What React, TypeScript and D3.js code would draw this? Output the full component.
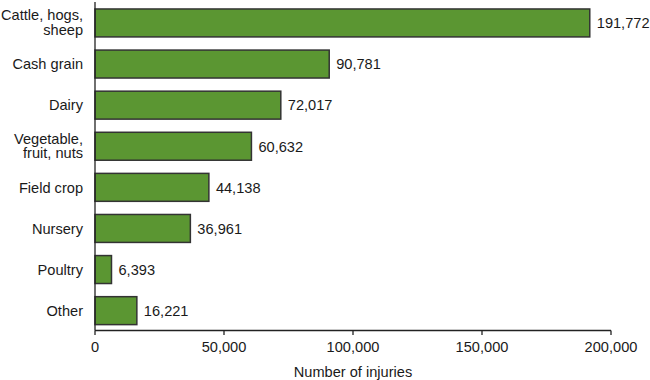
import React from "react";
import * as d3 from "d3";

const categories: string[][] = [
  ["Cattle, hogs,", "sheep"],
  ["Cash grain"],
  ["Dairy"],
  ["Vegetable,", "fruit, nuts"],
  ["Field crop"],
  ["Nursery"],
  ["Poultry"],
  ["Other"],
];
const values: number[] = [191772, 90781, 72017, 60632, 44138, 36961, 6393, 16221];
const xTicks: number[] = [0, 50000, 100000, 150000, 200000];
const xTitle = "Number of injuries";

const W = 650;
const H = 380;
const FONT = "'Liberation Sans', Arial, Helvetica, sans-serif";

export default function App() {
  const left = 95;
  const right = 611;
  const axisY = 330.5;
  const x = d3.scaleLinear().domain([0, 200000]).range([left, right]);
  const ids = categories.map((_, i) => String(i));
  const y = d3
    .scaleBand<string>()
    .domain(ids)
    .range([2.4, 331.2])
    .paddingInner(0.32)
    .paddingOuter(0.16);
  const fmt = d3.format(",");
  const fs = 14.6;
  return (
    <svg
      width={W}
      height={H}
      style={{ position: "absolute", left: 0, top: 0, background: "#fff" }}
      fontFamily={FONT}
    >
      {values.map((v, i) => {
        const yy = y(String(i))!;
        const bh = y.bandwidth();
        const cy = yy + bh / 2;
        const lines = categories[i];
        return (
          <g key={i}>
            <rect
              x={x(0)}
              y={yy}
              width={x(v) - x(0)}
              height={bh}
              fill="#5b9632"
              stroke="#333"
              strokeWidth={1.5}
            />
            <text
              x={x(v) + 7}
              y={cy}
              dy="0.36em"
              fontSize={fs}
              fill="#1a1a1a"
            >
              {fmt(v)}
            </text>
            {lines.map((ln, j) => {
              const off = lines.length === 1 ? 0 : j === 0 ? -8 : 6.5;
              return (
                <text
                  key={j}
                  x={83}
                  y={cy + off}
                  dy="0.36em"
                  textAnchor="end"
                  fontSize={fs}
                  fill="#1a1a1a"
                >
                  {ln}
                </text>
              );
            })}
          </g>
        );
      })}
      <line x1={left} x2={left} y1={2} y2={axisY} stroke="#222" strokeWidth={1.3} />
      <line x1={left} x2={right} y1={axisY} y2={axisY} stroke="#222" strokeWidth={1.3} />
      {xTicks.map((t) => (
        <g key={t}>
          <line x1={x(t)} x2={x(t)} y1={axisY} y2={axisY + 4.5} stroke="#222" strokeWidth={1.3} />
          <text x={x(t)} y={352} textAnchor="middle" fontSize={fs} fill="#1a1a1a">
            {fmt(t)}
          </text>
        </g>
      ))}
      <text x={(left + right) / 2} y={377} textAnchor="middle" fontSize={fs} fill="#1a1a1a">
        {xTitle}
      </text>
    </svg>
  );
}
